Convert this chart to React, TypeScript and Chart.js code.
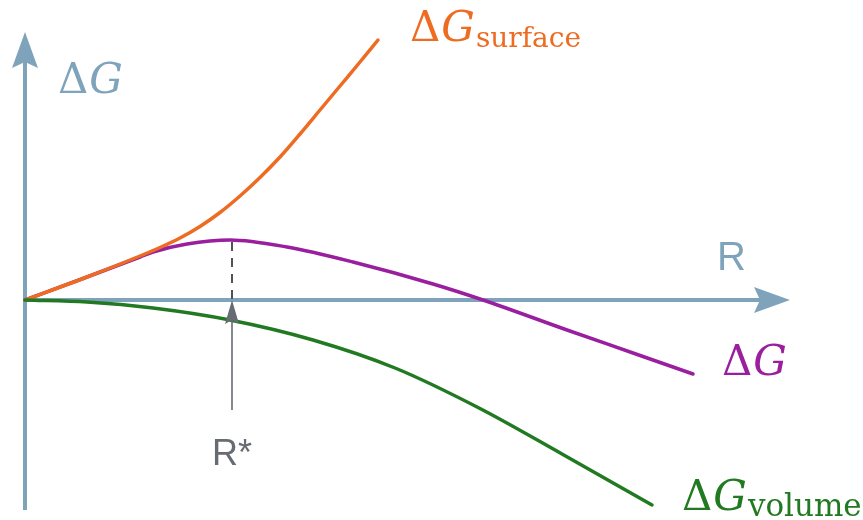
import React, { useEffect, useRef } from "react";
import { Chart, registerables } from "chart.js";

Chart.register(...registerables);

// Radius R (arbitrary units) and free-energy contributions ΔG (arbitrary units)
const R_SURFACE = [0, 1.24, 2.3, 2.7, 3.1, 3.5, 3.9, 4.3, 4.7, 5.1, 5.5, 5.9, 6.3, 6.7, 7.06];
const G_SURFACE = [0, 0.46, 0.88, 1.05, 1.24, 1.47, 1.75, 2.08, 2.45, 2.86, 3.32, 3.8, 4.28, 4.76, 5.2];

const R_TOTAL = [0, 1.24, 2.3, 2.56, 3.24, 4.1, 5.24, 6.56, 8.16, 9.16, 10.84, 12.16, 13.36];
const G_TOTAL = [0, 0.46, 0.86, 0.96, 1.12, 1.2, 1.06, 0.76, 0.32, 0, -0.6, -1.06, -1.48];

const R_VOLUME = [0, 1.24, 2.56, 4.1, 5.76, 7.4, 9.08, 10.74, 12.54];
const G_VOLUME = [0, -0.04, -0.16, -0.4, -0.8, -1.36, -2.16, -3.08, -4.1];

const R_STAR = 4.14;
const R_AXIS_MAX = 15.3;
const G_AXIS_MAX = 5.36;
const G_AXIS_MIN = -4.2;

const AXIS_COLOR = "#80a3bc";
const SURFACE_COLOR = "#ee6b22";
const TOTAL_COLOR = "#9a1f9f";
const VOLUME_COLOR = "#217a21";
const MARK_COLOR = "#676b72";

const toPoints = (xs: number[], ys: number[]) => xs.map((x, i) => ({ x, y: ys[i] }));

function drawDeltaG(
  ctx: CanvasRenderingContext2D,
  x: number,
  y: number,
  color: string,
  size: number,
  sub?: string,
  subSize?: number
) {
  ctx.save();
  ctx.fillStyle = color;
  ctx.textBaseline = "alphabetic";
  ctx.textAlign = "left";
  ctx.font = `${size}px "DejaVu Serif"`;
  ctx.fillText("Δ", x, y);
  let cx = x + ctx.measureText("Δ").width + 1;
  ctx.font = `italic ${size}px "DejaVu Serif"`;
  ctx.fillText("G", cx, y);
  cx += ctx.measureText("G").width + 1;
  if (sub) {
    ctx.font = `${subSize || Math.round(size * 0.66)}px "DejaVu Serif"`;
    ctx.fillText(sub, cx, y + 6);
  }
  ctx.restore();
}

const decorations = {
  id: "decorations",
  beforeDatasetsDraw(chart: any) {
    const { ctx, scales } = chart;
    const xs = scales.x;
    const ys = scales.y;
    const ox = xs.getPixelForValue(0);
    const oy = ys.getPixelForValue(0);
    const xEnd = xs.getPixelForValue(R_AXIS_MAX);
    const yTop = ys.getPixelForValue(G_AXIS_MAX);
    const yBot = ys.getPixelForValue(G_AXIS_MIN);
    ctx.save();
    ctx.strokeStyle = AXIS_COLOR;
    ctx.fillStyle = AXIS_COLOR;
    ctx.lineWidth = 4;
    // vertical axis
    ctx.beginPath();
    ctx.moveTo(ox, yBot);
    ctx.lineTo(ox, yTop + 25);
    ctx.stroke();
    ctx.beginPath();
    ctx.moveTo(ox, yTop);
    ctx.lineTo(ox + 13, yTop + 36);
    ctx.lineTo(ox, yTop + 30);
    ctx.lineTo(ox - 13, yTop + 36);
    ctx.closePath();
    ctx.fill();
    // horizontal axis
    ctx.beginPath();
    ctx.moveTo(ox - 2, oy);
    ctx.lineTo(xEnd - 25, oy);
    ctx.stroke();
    ctx.beginPath();
    ctx.moveTo(xEnd, oy);
    ctx.lineTo(xEnd - 36, oy - 13);
    ctx.lineTo(xEnd - 30, oy);
    ctx.lineTo(xEnd - 36, oy + 13);
    ctx.closePath();
    ctx.fill();
    // axis labels
    drawDeltaG(ctx, ox + 33, yTop + 61, AXIS_COLOR, 42);
    ctx.font = `40px "Liberation Sans"`;
    ctx.textAlign = "left";
    ctx.textBaseline = "alphabetic";
    ctx.fillText("R", xEnd - 73, oy - 30);
    // dashed line at R*
    const sx = xs.getPixelForValue(R_STAR);
    const peak = Math.max(...G_TOTAL);
    ctx.strokeStyle = "#4f5258";
    ctx.lineWidth = 2;
    ctx.setLineDash([9, 7]);
    ctx.beginPath();
    ctx.moveTo(sx, ys.getPixelForValue(peak) + 2);
    ctx.lineTo(sx, oy);
    ctx.stroke();
    ctx.restore();
  },
  afterDatasetsDraw(chart: any) {
    const { ctx, scales } = chart;
    const xs = scales.x;
    const ys = scales.y;
    const oy = ys.getPixelForValue(0);
    const sx = xs.getPixelForValue(R_STAR);
    ctx.save();
    // R* arrow
    ctx.strokeStyle = MARK_COLOR;
    ctx.fillStyle = MARK_COLOR;
    ctx.lineWidth = 1.6;
    ctx.beginPath();
    ctx.moveTo(sx, oy + 110);
    ctx.lineTo(sx, oy + 18);
    ctx.stroke();
    ctx.beginPath();
    ctx.moveTo(sx, oy);
    ctx.lineTo(sx + 7, oy + 24);
    ctx.lineTo(sx, oy + 20);
    ctx.lineTo(sx - 7, oy + 24);
    ctx.closePath();
    ctx.fill();
    ctx.font = `36px "Liberation Sans"`;
    ctx.textAlign = "center";
    ctx.textBaseline = "alphabetic";
    ctx.fillText("R*", sx, oy + 165);
    // curve labels
    const last = (rs: number[], gs: number[]) => ({
      x: xs.getPixelForValue(rs[rs.length - 1]),
      y: ys.getPixelForValue(gs[gs.length - 1]),
    });
    const s = last(R_SURFACE, G_SURFACE);
    drawDeltaG(ctx, s.x + 32, s.y + 1, SURFACE_COLOR, 42, "surface", 28);
    const t = last(R_TOTAL, G_TOTAL);
    drawDeltaG(ctx, t.x + 29, t.y + 1, TOTAL_COLOR, 42);
    const v = last(R_VOLUME, G_VOLUME);
    drawDeltaG(ctx, v.x + 30, v.y + 5, VOLUME_COLOR, 42, "volume", 31);
    ctx.restore();
  },
};

export default function App() {
  const canvasRef = useRef<HTMLCanvasElement | null>(null);

  useEffect(() => {
    if (!canvasRef.current) return;
    const lineDs = (label: string, xs: number[], ys: number[], color: string) => ({
      label,
      data: toPoints(xs, ys),
      showLine: true,
      borderColor: color,
      backgroundColor: color,
      borderWidth: 3.5,
      pointRadius: 0,
      tension: 0.4,
      cubicInterpolationMode: "monotone" as const,
      borderCapStyle: "round" as const,
      clip: false as any,
    });
    const chart = new Chart(canvasRef.current, {
      type: "scatter",
      data: {
        datasets: [
          lineDs("ΔG volume", R_VOLUME, G_VOLUME, VOLUME_COLOR),
          lineDs("ΔG surface", R_SURFACE, G_SURFACE, SURFACE_COLOR),
          lineDs("ΔG", R_TOTAL, G_TOTAL, TOTAL_COLOR),
        ],
      },
      options: {
        animation: false,
        responsive: false,
        maintainAspectRatio: false,
        layout: { padding: { left: 25, right: 73, top: 32, bottom: 10 } },
        plugins: {
          legend: { display: false },
          tooltip: { enabled: false },
        },
        events: [],
        scales: {
          x: { type: "linear", min: 0, max: R_AXIS_MAX, display: false },
          y: { type: "linear", min: G_AXIS_MIN, max: G_AXIS_MAX, display: false },
        },
      },
      plugins: [decorations],
    });
    return () => chart.destroy();
  }, []);

  return (
    <div style={{ position: "fixed", left: 0, top: 0, width: 863, height: 520, background: "#fff" }}>
      <canvas ref={canvasRef} width={863} height={520} style={{ width: 863, height: 520 }} />
    </div>
  );
}
